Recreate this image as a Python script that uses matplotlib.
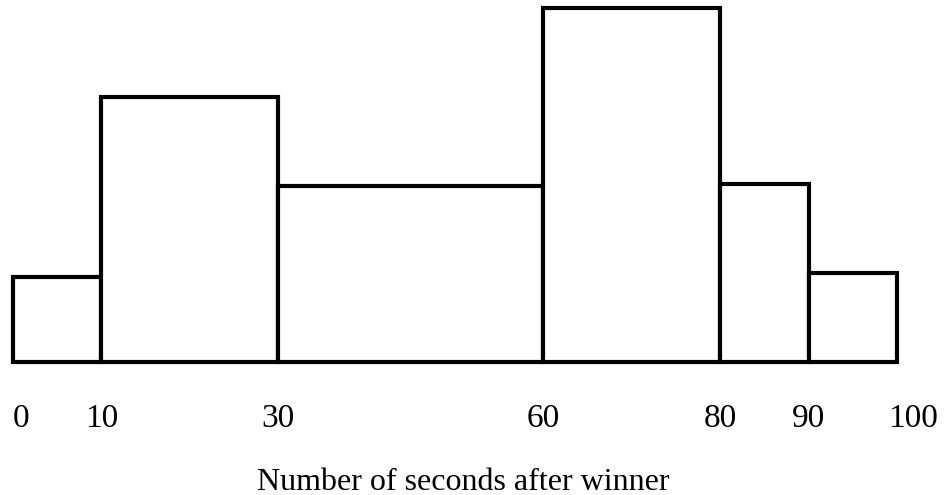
import matplotlib.pyplot as plt
from matplotlib.transforms import ScaledTranslation

# bin edges (seconds) and frequency densities
bin_edges = [0, 10, 30, 60, 80, 90, 100]
densities = [0.85, 2.65, 1.76, 3.54, 1.78, 0.89]
tick_labels = ["0", "10", "30", "60", "80", "90", "100"]

plt.rcParams["font.family"] = ["Liberation Serif", "DejaVu Serif"]

fig = plt.figure(figsize=(9.46, 4.95), dpi=100)
ax = fig.add_axes([13 / 946, (495 - 362) / 495, 884 / 946, 354 / 495])

lefts = bin_edges[:-1]
widths = [b - a for a, b in zip(bin_edges[:-1], bin_edges[1:])]
ax.bar(lefts, densities, width=widths, align="edge",
       facecolor="white", edgecolor="black", linewidth=3, clip_on=False)

ax.set_xlim(0, 100)
ax.set_ylim(0, max(densities))
ax.set_xticks(bin_edges, tick_labels, fontsize=24)
ax.tick_params(axis="x", length=0, pad=30)
ax.set_yticks([])
for side in ax.spines.values():
    side.set_visible(False)

# end labels sit a little to the right of their ticks
labels = ax.get_xticklabels()
labels[0].set_transform(labels[0].get_transform() + ScaledTranslation(8 / 100, 0, fig.dpi_scale_trans))
labels[-1].set_transform(labels[-1].get_transform() + ScaledTranslation(16 / 100, 0, fig.dpi_scale_trans))

ax.set_xlabel("Number of seconds after winner", fontsize=23, labelpad=24)
ax.xaxis.label.set_x(0.5 + 8 / 884)

fig.savefig("out.png", dpi=100)
